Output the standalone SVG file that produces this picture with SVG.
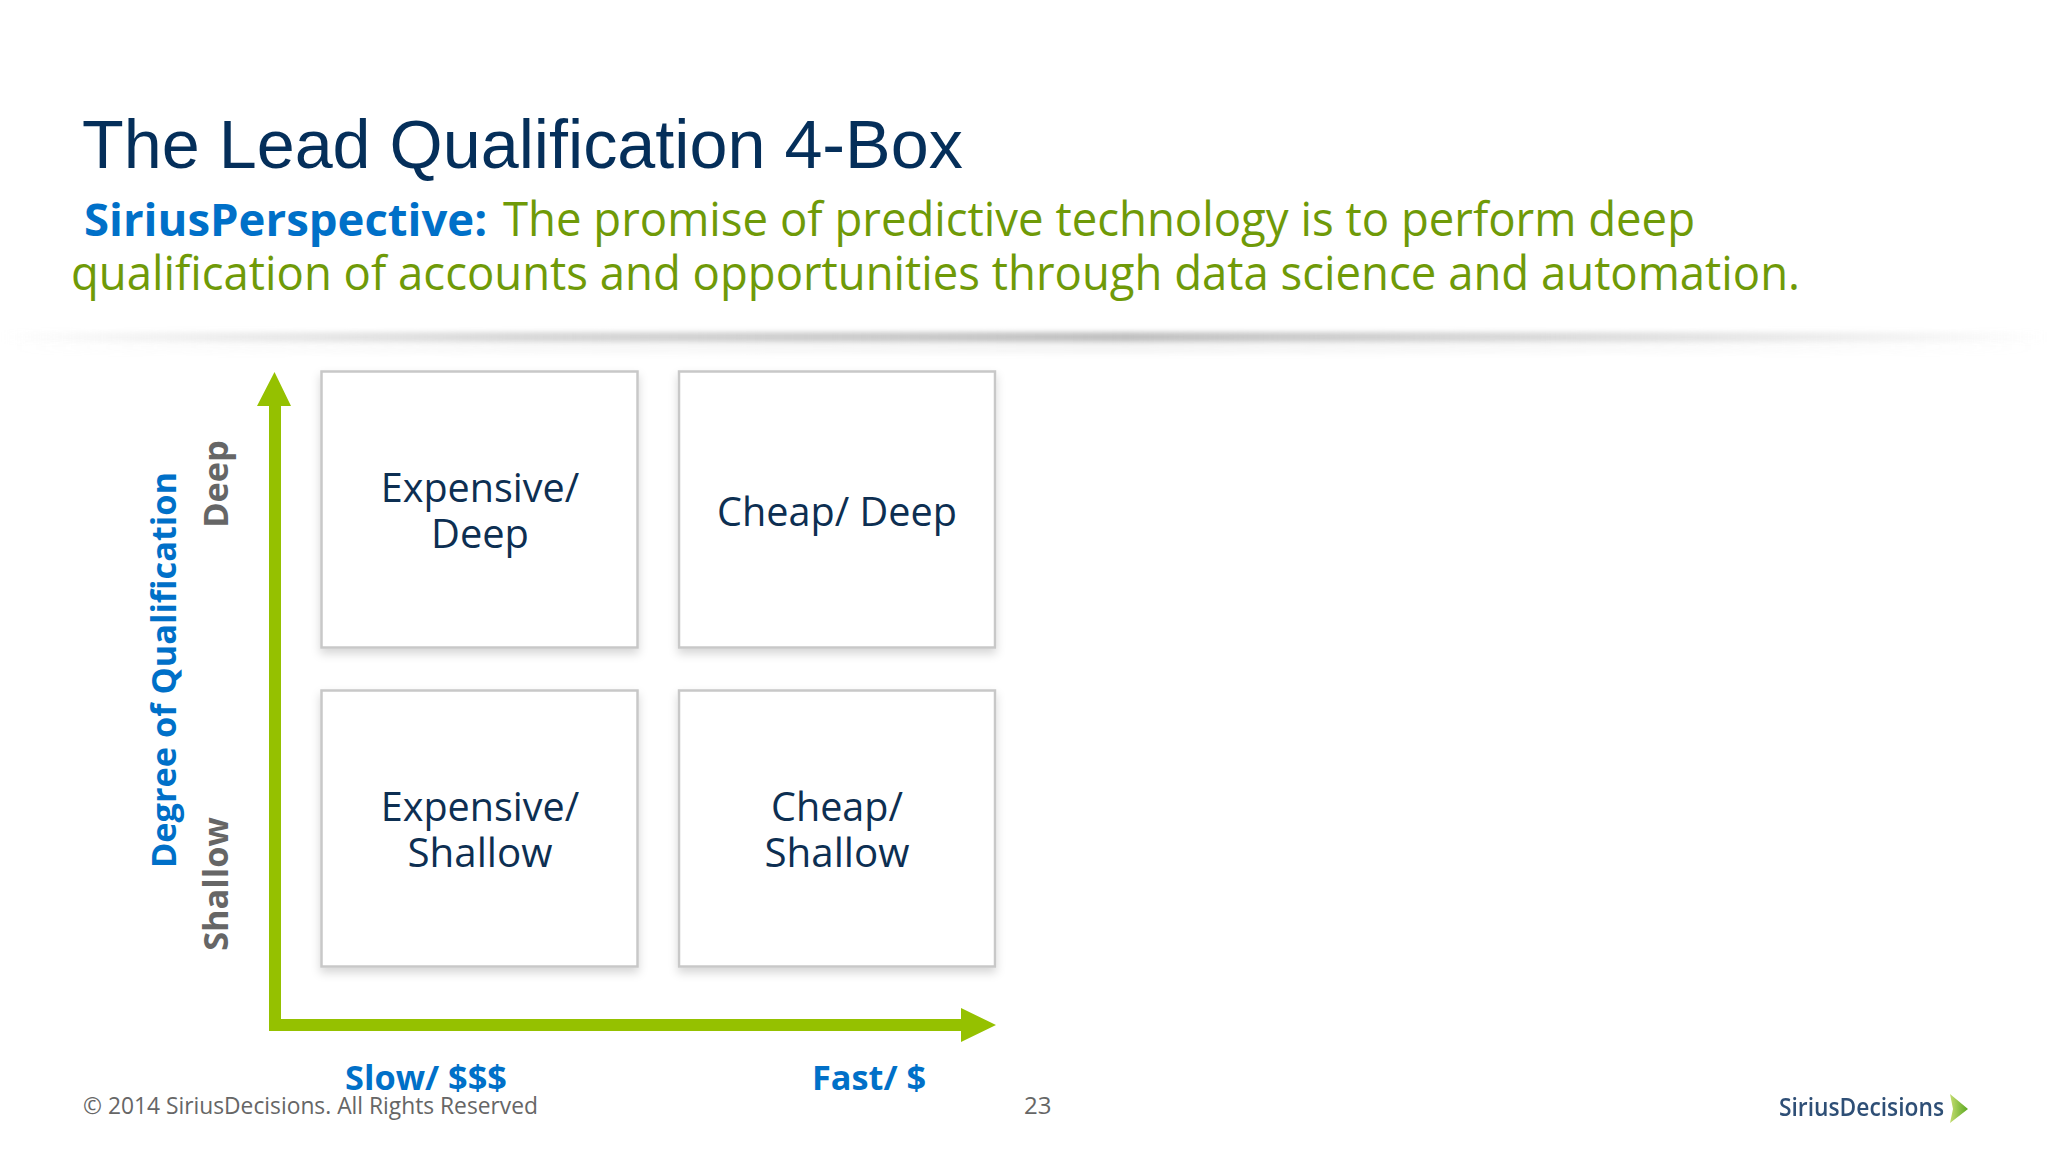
<svg xmlns="http://www.w3.org/2000/svg" width="2048" height="1152" viewBox="0 0 2048 1152">
<style>
.os{font-family:"Open Sans","Noto Sans",sans-serif}
.box{fill:#fff;stroke:#c8c8c8;stroke-width:2.5;filter:url(#sh)}
.lbl{font-size:41px;fill:#0d2f52;text-anchor:middle}
.ax{font-size:34.300px;font-weight:700;fill:#0070c8;text-anchor:middle}
.gr{font-size:34.300px;font-weight:700;fill:#666;text-anchor:middle}
.sub{font-size:47px;fill:#6f9a08}
.foot{font-size:24px;fill:#666}
</style>
<defs>
<filter id="sh" x="-10%" y="-10%" width="120%" height="125%"><feDropShadow dx="0" dy="5" stdDeviation="5" flood-color="#000" flood-opacity="0.16"/></filter>
<linearGradient id="bar" x1="0" x2="1" y1="0" y2="0"><stop offset="0" stop-color="#ccc" stop-opacity="0"/><stop offset="0.25" stop-color="#ccc" stop-opacity="0.75"/><stop offset="0.55" stop-color="#c0c0c0"/><stop offset="0.8" stop-color="#ccc" stop-opacity="0.6"/><stop offset="1" stop-color="#ccc" stop-opacity="0"/></linearGradient>
<linearGradient id="logo" x1="0" x2="1" y1="0" y2="0"><stop offset="0" stop-color="#c4dc70"/><stop offset="1" stop-color="#5aa820"/></linearGradient>
<filter id="bl"><feGaussianBlur stdDeviation="0.6"/></filter>
<filter id="bar-blur" x="-5%" y="-200%" width="110%" height="500%"><feGaussianBlur stdDeviation="0 2.500"/></filter>
</defs>
<rect width="2048" height="1152" fill="#fff"/>
<text id="title" x="82" y="168" font-family="'Liberation Sans',Arial,sans-serif" font-size="68.300px" fill="#052f5a">The Lead Qualification 4-Box</text>
<g id="subtitle">
<text class="os sub" x="84" y="236" font-weight="700" style="fill:#0070c8;font-size:45.500px">SiriusPerspective:</text>
<text class="os sub" x="503" y="236" textLength="1192" lengthAdjust="spacingAndGlyphs">The promise of predictive technology is to perform deep</text>
<text class="os sub" x="71" y="290" textLength="1729" lengthAdjust="spacingAndGlyphs">qualification of accounts and opportunities through data science and automation.</text>
</g>
<g id="divider"><rect x="0" y="332" width="2048" height="10" fill="url(#bar)" filter="url(#bar-blur)"/><rect x="0" y="340" width="2048" height="14" fill="url(#bar)" opacity="0.15" filter="url(#bar-blur)"/></g>
<g id="connectors">
<path fill="#95c100" d="M269 1031V406H257L274.500 372L291 406H281V1019H961V1008L996 1025L961 1042V1031Z"/>
</g>
<g id="box-expensive-deep"><rect class="box" x="321.500" y="371.500" width="316" height="276"/><text class="os lbl" x="480" y="502" textLength="198.500" lengthAdjust="spacingAndGlyphs">Expensive/</text><text class="os lbl" x="480" y="548" textLength="98" lengthAdjust="spacingAndGlyphs">Deep</text></g>
<g id="box-cheap-deep"><rect class="box" x="679" y="371.500" width="316" height="276"/><text class="os lbl" x="837" y="526" textLength="240" lengthAdjust="spacingAndGlyphs">Cheap/ Deep</text></g>
<g id="box-expensive-shallow"><rect class="box" x="321.500" y="690.500" width="316" height="276"/><text class="os lbl" x="480" y="821" textLength="198.500" lengthAdjust="spacingAndGlyphs">Expensive/</text><text class="os lbl" x="480" y="867" textLength="145" lengthAdjust="spacingAndGlyphs">Shallow</text></g>
<g id="box-cheap-shallow"><rect class="box" x="679" y="690.500" width="316" height="276"/><text class="os lbl" x="837" y="821" textLength="132" lengthAdjust="spacingAndGlyphs">Cheap/</text><text class="os lbl" x="837" y="867" textLength="145" lengthAdjust="spacingAndGlyphs">Shallow</text></g>
<g id="axis-labels">
<text class="os ax" transform="translate(176 670) rotate(-90)">Degree of Qualification</text>
<text class="os gr" transform="translate(228 484) rotate(-90)">Deep</text>
<text class="os gr" transform="translate(228 884) rotate(-90)">Shallow</text>
<text class="os ax" x="426" y="1090">Slow/ $$$</text>
<text class="os ax" x="869" y="1090">Fast/ $</text>
</g>
<g id="footer">
<text class="os foot" x="83" y="1114" textLength="455" lengthAdjust="spacingAndGlyphs">© 2014 SiriusDecisions. All Rights Reserved</text>
<text class="os foot" x="1024" y="1114">23</text>
</g>
<g id="logo">
<text x="1779" y="1116" font-family="'Open Sans',sans-serif" font-size="24.500px" font-weight="600" fill="#2f4f76" filter="url(#bl)" textLength="165" lengthAdjust="spacingAndGlyphs">SiriusDecisions</text>
<path d="M1950 1094L1968 1109L1950 1123L1953 1109Z" fill="url(#logo)" filter="url(#bl)"/>
</g>
</svg>
